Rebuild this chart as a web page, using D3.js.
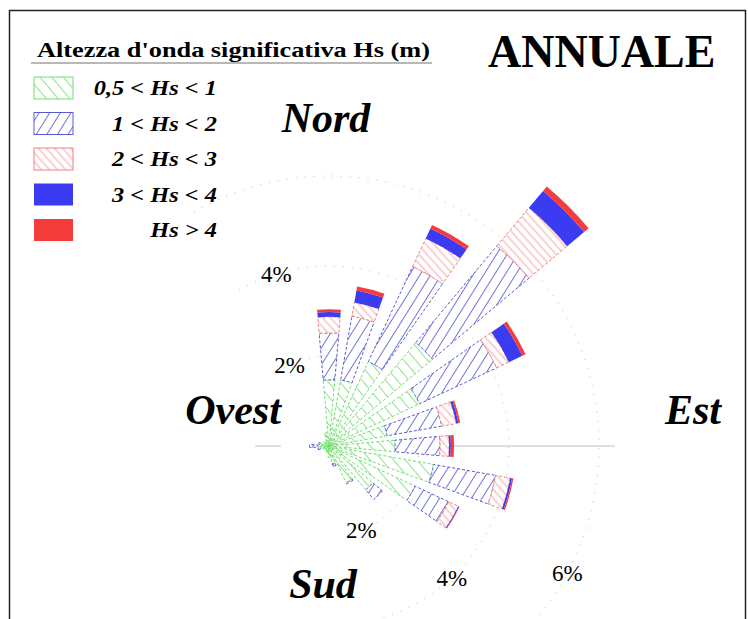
<!DOCTYPE html>
<html>
<head>
<meta charset="utf-8">
<script src="https://cdn.jsdelivr.net/npm/d3@7"></script>
<style>
  body { margin: 0; background: #fff; }
  text { font-family: "Liberation Serif", "Times New Roman", serif; }
</style>
</head>
<body>
<svg></svg>
<script>
  var width = 748;
  var height = 619;

  // sector directions, degrees clockwise from north
  var directions = [0, 15, 30, 45, 60, 75, 90, 105, 120, 135, 150, 165,
                    180, 195, 210, 225, 240, 255, 270, 285, 300, 315, 330, 345];

  // frequency (%) of each wave height class per direction
  var hs05_1 = [1.47, 1.49, 2.07, 3.00, 2.22, 1.31, 1.47, 2.36, 2.11, 1.27, 0.90, 0.40,
                0.25, 0.15, 0.12, 0.10, 0.12, 0.20, 0.25, 0.20, 0.15, 0.12, 0.15, 0.30];
  var hs1_2  = [1.04, 1.44, 2.33, 2.80, 1.89, 1.23, 1.00, 1.40, 0.82, 0.28, 0.03, 0.06,
                0, 0, 0, 0, 0, 0.05, 0.18, 0.03, 0, 0, 0, 0];
  var hs2_3  = [0.36, 0.31, 0.69, 1.11, 0.30, 0.33, 0.20, 0.33, 0.24, 0, 0, 0,
                0, 0, 0, 0, 0, 0, 0, 0, 0, 0, 0, 0];
  var hs3_4  = [0.11, 0.27, 0.24, 0.49, 0.33, 0.05, 0.04, 0.04, 0.02, 0, 0, 0,
                0, 0, 0, 0, 0, 0, 0, 0, 0, 0, 0, 0];
  var hs4    = [0.06, 0.09, 0.09, 0.13, 0.08, 0.04, 0.07, 0.03, 0.01, 0, 0, 0,
                0, 0, 0, 0, 0, 0, 0, 0, 0, 0, 0, 0];

  var classKeys = ['hs05_1', 'hs1_2', 'hs2_3', 'hs3_4', 'hs4'];
  var classLabels = ['0,5 < Hs < 1', '1 < Hs < 2', '2 < Hs < 3', '3 < Hs < 4', 'Hs > 4'];
  var ringValues = [2, 4, 6];
  var ringLabels = [
    { value: 4, angle: 343 },
    { value: 2, angle: 334 },
    { value: 2, angle: 159 },
    { value: 4, angle: 137 },
    { value: 6, angle: 118 }
  ];
  var compass = [
    { name: 'Nord', x: 326, y: 132 },
    { name: 'Ovest', x: 233, y: 424 },
    { name: 'Est', x: 693, y: 424 },
    { name: 'Sud', x: 323, y: 598 }
  ];

  var table = directions.map(function (dir, i) {
    return { dir: dir, hs05_1: hs05_1[i], hs1_2: hs1_2[i], hs2_3: hs2_3[i], hs3_4: hs3_4[i], hs4: hs4[i] };
  });
  var stacked = d3.stack().keys(classKeys)(table);

  var styles = {
    hs05_1: { fill: 'url(#hGreen)', stroke: '#70de70', dash: '3,2' },
    hs1_2:  { fill: 'url(#hBlue)',  stroke: '#5a5ad6', dash: '3,2' },
    hs2_3:  { fill: 'url(#hRed)',   stroke: '#f08080', dash: '3,2' },
    hs3_4:  { fill: '#3b3bf2',      stroke: 'none',    dash: null },
    hs4:    { fill: '#f43c3c',      stroke: 'none',    dash: null }
  };

  var svg = d3.select('svg')
    .attr('width', width)
    .attr('height', height);

  var defs = svg.append('defs');
  function hatch(id, color, spacing, angle) {
    var p = defs.append('pattern')
      .attr('id', id)
      .attr('patternUnits', 'userSpaceOnUse')
      .attr('width', spacing)
      .attr('height', spacing)
      .attr('patternTransform', 'rotate(' + angle + ')');
    p.append('rect').attr('width', spacing).attr('height', spacing).attr('fill', '#fff');
    p.append('line')
      .attr('x1', spacing / 2).attr('y1', 0)
      .attr('x2', spacing / 2).attr('y2', spacing)
      .attr('stroke', color)
      .attr('stroke-width', 1);
  }
  hatch('hGreen', '#8ae68a', 9, -40);
  hatch('hBlue', '#7373da', 9, 32);
  hatch('hRed', '#f4a4a4', 6, -42);

  // frame
  svg.append('rect')
    .attr('x', 9.5).attr('y', 10.5)
    .attr('width', 736).attr('height', 640)
    .attr('fill', 'none')
    .attr('stroke', '#222')
    .attr('stroke-width', 1.5);

  var cx = 329, cy = 446;
  var r = d3.scaleLinear().domain([0, 6]).range([0, 270]);
  var rad = Math.PI / 180;

  var rose = svg.append('g').attr('transform', 'translate(' + cx + ',' + cy + ')');

  // E-W axis line
  rose.append('line')
    .attr('x1', -r(1.64)).attr('x2', -r(1.07))
    .attr('stroke', '#d4d4d4').attr('stroke-width', 1.5);
  rose.append('line')
    .attr('x1', r(1.07)).attr('x2', r(6.35))
    .attr('stroke', '#d4d4d4').attr('stroke-width', 1.5);

  // dotted rings
  rose.selectAll('path.ring')
    .data(ringValues)
    .enter()
    .append('path')
    .attr('class', 'ring')
    .attr('d', function (d) {
      var p = d3.path();
      p.arc(0, 0, r(d), (-30 - 90) * rad, (165 - 90) * rad);
      return p.toString();
    })
    .attr('fill', 'none')
    .attr('stroke', '#b8b8b8')
    .attr('stroke-width', 1)
    .attr('stroke-dasharray', '1,8');

  var arc = d3.arc()
    .innerRadius(function (d) { return r(d[0]); })
    .outerRadius(function (d) { return r(d[1]); })
    .startAngle(function (d) { return (d.data.dir - 5) * rad; })
    .endAngle(function (d) { return (d.data.dir + 5) * rad; });

  stacked.forEach(function (layer) {
    var st = styles[layer.key];
    rose.selectAll('path.' + layer.key)
      .data(layer.filter(function (d) { return d[1] - d[0] > 0; }))
      .enter()
      .append('path')
      .attr('class', layer.key)
      .attr('d', arc)
      .attr('fill', st.fill)
      .attr('stroke', st.stroke)
      .attr('stroke-width', 1)
      .attr('stroke-dasharray', st.dash);
  });

  // ring labels
  rose.selectAll('text.ringLabel')
    .data(ringLabels)
    .enter()
    .append('text')
    .attr('class', 'ringLabel')
    .attr('x', function (d) { return r(d.value) * Math.sin(d.angle * rad); })
    .attr('y', function (d) { return -r(d.value) * Math.cos(d.angle * rad); })
    .attr('dy', '0.35em')
    .attr('text-anchor', 'middle')
    .style('font-size', '23px')
    .text(function (d) { return d.value + '%'; });

  // compass names
  svg.selectAll('text.compass')
    .data(compass)
    .enter()
    .append('text')
    .attr('class', 'compass')
    .attr('x', function (d) { return d.x; })
    .attr('y', function (d) { return d.y; })
    .attr('text-anchor', 'middle')
    .style('font-size', '42px')
    .style('font-weight', 'bold')
    .style('font-style', 'italic')
    .text(function (d) { return d.name; });

  // titles
  svg.append('text')
    .attr('x', 488).attr('y', 67)
    .style('font-size', '46px')
    .style('font-weight', 'bold')
    .text('ANNUALE');

  svg.append('text')
    .attr('x', 37).attr('y', 57)
    .style('font-size', '21px')
    .style('font-weight', 'bold')
    .attr('textLength', 393)
    .attr('lengthAdjust', 'spacingAndGlyphs')
    .text("Altezza d'onda significativa Hs (m)");
  svg.append('line')
    .attr('x1', 31).attr('x2', 432)
    .attr('y1', 63).attr('y2', 63)
    .attr('stroke', '#a0a0a0')
    .attr('stroke-width', 1.5);

  // legend
  var legend = svg.selectAll('g.legend')
    .data(classKeys)
    .enter()
    .append('g')
    .attr('class', 'legend')
    .attr('transform', function (d, i) { return 'translate(34,' + (77 + i * 35.5) + ')'; });
  legend.append('rect')
    .attr('width', 39)
    .attr('height', 22)
    .attr('fill', function (d) { return styles[d].fill; })
    .attr('stroke', function (d) { return styles[d].stroke; })
    .attr('stroke-width', 1);
  legend.append('text')
    .attr('x', 183)
    .attr('y', 18)
    .attr('text-anchor', 'end')
    .style('font-size', '21px')
    .style('font-weight', 'bold')
    .style('font-style', 'italic')
    .text(function (d, i) { return classLabels[i]; })
    .each(function () {
      // the original labels are drawn a little wider than the font
      var w = this.getComputedTextLength();
      d3.select(this)
        .attr('textLength', w * 1.16)
        .attr('lengthAdjust', 'spacingAndGlyphs');
    });
</script>
</body>
</html>
